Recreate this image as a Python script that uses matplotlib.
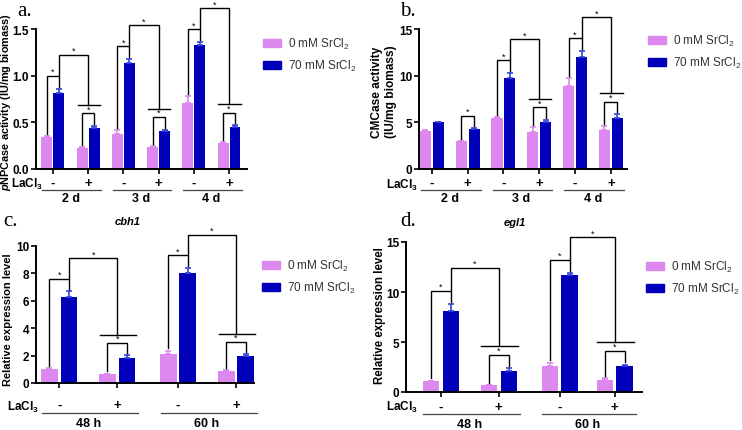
import numpy as np
import matplotlib.pyplot as plt
from matplotlib.patches import Patch

plt.rcParams['font.family'] = ['Liberation Sans', 'DejaVu Sans']
plt.rcParams['mathtext.fontset'] = 'custom'
plt.rcParams['mathtext.rm'] = 'Liberation Sans'
plt.rcParams['mathtext.bf'] = 'Liberation Sans:bold'
plt.rcParams['mathtext.it'] = 'Liberation Sans:bold:italic'

PINK = '#dd88ee'
BLUE = '#0000bb'

# panel a: pNPCase activity, pairs in order 2d-, 2d+, 3d-, 3d+, 4d-, 4d+
a_groups = ['2 d', '3 d', '4 d']
a_ctrl = [0.34, 0.23, 0.37, 0.24, 0.71, 0.28]
a_ctrl_err = [0.01, 0.01, 0.05, 0.01, 0.07, 0.01]
a_sr = [0.81, 0.44, 1.14, 0.41, 1.33, 0.45]
a_sr_err = [0.05, 0.02, 0.04, 0.01, 0.03, 0.02]
a_sig_minus = [True, True, True]
a_sig_big = [True, True, True]
a_sig_plus = [True, True, True]

# panel b: CMCase activity
b_groups = ['2 d', '3 d', '4 d']
b_ctrl = [4.05, 2.95, 5.45, 4.0, 8.9, 4.2]
b_ctrl_err = [0.1, 0.05, 0.1, 0.45, 0.8, 0.4]
b_sr = [5.0, 4.25, 9.75, 5.0, 12.05, 5.5]
b_sr_err = [0.05, 0.1, 0.55, 0.25, 0.6, 0.35]
b_sig_minus = [False, True, True]
b_sig_big = [False, True, True]
b_sig_plus = [True, True, True]

# panel c: cbh1 relative expression, 48h-, 48h+, 60h-, 60h+
c_groups = ['48 h', '60 h']
c_ctrl = [1.05, 0.67, 2.12, 0.87]
c_ctrl_err = [0.05, 0.02, 0.25, 0.07]
c_sr = [6.25, 1.82, 8.05, 2.0]
c_sr_err = [0.45, 0.2, 0.37, 0.1]
c_sig_minus = [True, True]
c_sig_big = [True, True]
c_sig_plus = [True, True]

# panel d: egl1 relative expression
d_groups = ['48 h', '60 h']
d_ctrl = [1.1, 0.67, 2.65, 1.25]
d_ctrl_err = [0.05, 0.02, 0.3, 0.12]
d_sr = [8.15, 2.15, 11.75, 2.65]
d_sr_err = [0.65, 0.25, 0.12, 0.1]
d_sig_minus = [True, True]
d_sig_big = [True, True]
d_sig_plus = [True, True]

legend_labels = ['0 mM SrCl$_2$', '70 mM SrCl$_2$']
lacl_label = r'LaCl$_\mathbf{3}$'

W, H = 742, 431
fig = plt.figure(figsize=(W / 100, H / 100), dpi=100)


def fx(px):
    return px / W


def fy(py):
    return 1 - py / H


def add_ax(x0, y_top, x1, y_bot):
    return fig.add_axes([fx(x0), fy(y_bot), (x1 - x0) / W, (y_bot - y_top) / H])


def draw_panel(ax, pos, xlim, ymax, yticks, ctrl, ctrl_err, sr, sr_err,
               groups, sig_minus, sig_big, sig_plus, width, off, ax_h,
               dy_sign, dy_line, dy_group, fs):
    pos = np.asarray(pos, dtype=float)
    n = len(pos)
    ax.bar(pos - off, ctrl, width, color=PINK,
           yerr=[[0] * n, ctrl_err],
           error_kw=dict(ecolor=PINK, capsize=2.5, elinewidth=1.2, capthick=1.2))
    ax.bar(pos + off, sr, width, color=BLUE,
           yerr=[[0] * n, sr_err],
           error_kw=dict(ecolor='#3344dd', capsize=2.5, elinewidth=1.2, capthick=1.2))
    ax.set_xlim(*xlim)
    ax.set_ylim(0, ymax)
    ax.set_yticks(yticks)
    ax.set_yticklabels([('%g' % t) if ymax > 2 else '%.1f' % t for t in yticks],
                       fontsize=fs, fontweight='bold')
    ax.set_xticks(pos)
    ax.set_xticklabels([])
    for s in ['top', 'right']:
        ax.spines[s].set_visible(False)
    for s in ['left', 'bottom']:
        ax.spines[s].set_linewidth(1.4)
    ax.tick_params(width=1.2, length=3.5, pad=1.5)

    # significance brackets
    kw = dict(color='black', lw=1.0, clip_on=False, solid_joinstyle='miter')
    pad = 0.09 * ymax
    gap = 0.015 * ymax
    tops_c = np.array(ctrl) + np.array(ctrl_err)
    tops_s = np.array(sr) + np.array(sr_err)
    star_kw = dict(ha='center', va='bottom', fontsize=6.5, clip_on=False)
    for g in range(len(groups)):
        i, j = 2 * g, 2 * g + 1
        # plus pair
        top_p = max(tops_c[j], tops_s[j]) + pad
        if sig_plus[g]:
            ax.plot([pos[j] - off, pos[j] - off, pos[j] + off, pos[j] + off],
                    [tops_c[j] + gap, top_p, top_p, tops_s[j] + gap], **kw)
            ax.text(pos[j], top_p, '*', **star_kw)
        top_m = max(tops_c[i], tops_s[i]) + pad
        if sig_minus[g]:
            ax.plot([pos[i] - off, pos[i] - off, pos[i] + off, pos[i] + off],
                    [tops_c[i] + gap, top_m, top_m, tops_s[i] + gap], **kw)
            ax.text(pos[i], top_m, '*', **star_kw)
        if sig_big[g]:
            line_y = top_p + 0.06 * ymax
            big_y = top_m + 0.15 * ymax
            ax.plot([pos[j] - 0.3, pos[j] + 0.33], [line_y, line_y], **kw)
            ax.plot([pos[i] + off, pos[i] + off, pos[j], pos[j]],
                    [top_m, big_y, big_y, line_y], **kw)
            ax.text((pos[i] + off + pos[j]) / 2, big_y, '*', **star_kw)

    # LaCl3 -/+ row, underlines and group labels
    tr = ax.get_xaxis_transform()
    for k in range(n):
        ax.text(pos[k], -dy_sign / ax_h, '-' if k % 2 == 0 else '+',
                transform=tr, ha='center', va='center', fontsize=9.5,
                fontweight='bold')
    for g, name in enumerate(groups):
        p0, p1 = pos[2 * g], pos[2 * g + 1]
        ax.plot([p0 - 0.3, p1 + 0.36], [-dy_line / ax_h] * 2, transform=tr,
                clip_on=False, color='#444444', lw=0.9)
        ax.text((p0 + p1) / 2, -dy_group / ax_h, name, transform=tr,
                ha='center', va='center', fontsize=9, fontweight='bold')


def add_legend(ax, x, y):
    handles = [Patch(color=PINK), Patch(color=BLUE)]
    ax.legend(handles, legend_labels, loc='upper left',
              bbox_to_anchor=(fx(x), fy(y)), bbox_transform=fig.transFigure,
              frameon=False, fontsize=8.5, handlelength=1.5, handleheight=0.7,
              handletextpad=0.6, labelspacing=0.6, borderaxespad=0,
              borderpad=0, labelcolor='#333333')


# panel a
ax_a = add_ax(36, 30, 247, 170)
draw_panel(ax_a, np.arange(6), (-0.48, 5.51), 1.5, [0, 0.5, 1.0, 1.5],
           a_ctrl, a_ctrl_err, a_sr, a_sr_err, a_groups,
           a_sig_minus, a_sig_big, a_sig_plus, 0.31, 0.17, 140,
           14, 21, 29, 8.5)
add_legend(ax_a, 263, 37)

# panel b
ax_b = add_ax(419, 30, 627, 170)
draw_panel(ax_b, np.arange(6), (-0.36, 5.45), 15, [0, 5, 10, 15],
           b_ctrl, b_ctrl_err, b_sr, b_sr_err, b_groups,
           b_sig_minus, b_sig_big, b_sig_plus, 0.31, 0.18, 140,
           14, 21, 29, 8.5)
add_legend(ax_b, 648, 34)

# panel c
ax_c = add_ax(36, 247, 254, 384)
draw_panel(ax_c, [0, 1, 2.05, 3.05], (-0.40, 3.36), 10, [0, 2, 4, 6, 8, 10],
           c_ctrl, c_ctrl_err, c_sr, c_sr_err, c_groups,
           c_sig_minus, c_sig_big, c_sig_plus, 0.29, 0.17, 137,
           22, 30, 40, 8.5)
add_legend(ax_c, 262, 259)

# panel d
ax_d = add_ax(406, 243, 642, 393)
draw_panel(ax_d, [0, 1, 2.05, 3.0], (-0.6, 3.47), 15, [0, 5, 10, 15],
           d_ctrl, d_ctrl_err, d_sr, d_sr_err, d_groups,
           d_sig_minus, d_sig_big, d_sig_plus, 0.28, 0.17, 150,
           15, 22, 32, 8.5)
add_legend(ax_d, 646, 260)

# axis titles and labels
bold = dict(fontweight='bold', rotation=90, ha='center', va='center')
fig.text(fx(6), fy(102), r'$\mathit{p}$NPCase activity (IU/mg biomass)',
         fontsize=7.8, **bold)
fig.text(fx(384), fy(92), 'CMCase activity\n(IU/mg biomass)',
         fontsize=8.6, linespacing=1.15, **bold)
fig.text(fx(8), fy(320), 'Relative expression level', fontsize=8, **bold)
fig.text(fx(380), fy(316), 'Relative expression level', fontsize=8.3, **bold)

for x, y in [(43, 184), (418, 185), (39, 407), (418, 407)]:
    fig.text(fx(x), fy(y), lacl_label, ha='right', va='center',
             fontsize=8.5, fontweight='bold')

fig.text(fx(128), fy(222), 'cbh1', fontsize=8, fontweight='bold',
         style='italic', ha='center', va='center')
fig.text(fx(515), fy(223), 'egl1', fontsize=8, fontweight='bold',
         style='italic', ha='center', va='center')

serif = dict(family='Liberation Serif', fontsize=15, ha='left', va='center')
fig.text(fx(17), fy(12), 'a.', **serif)
fig.text(fx(400), fy(12), 'b.', **serif)
fig.text(fx(3), fy(222), 'c.', **serif)
fig.text(fx(400), fy(222), 'd.', **serif)

fig.savefig('out.png', dpi=100)
